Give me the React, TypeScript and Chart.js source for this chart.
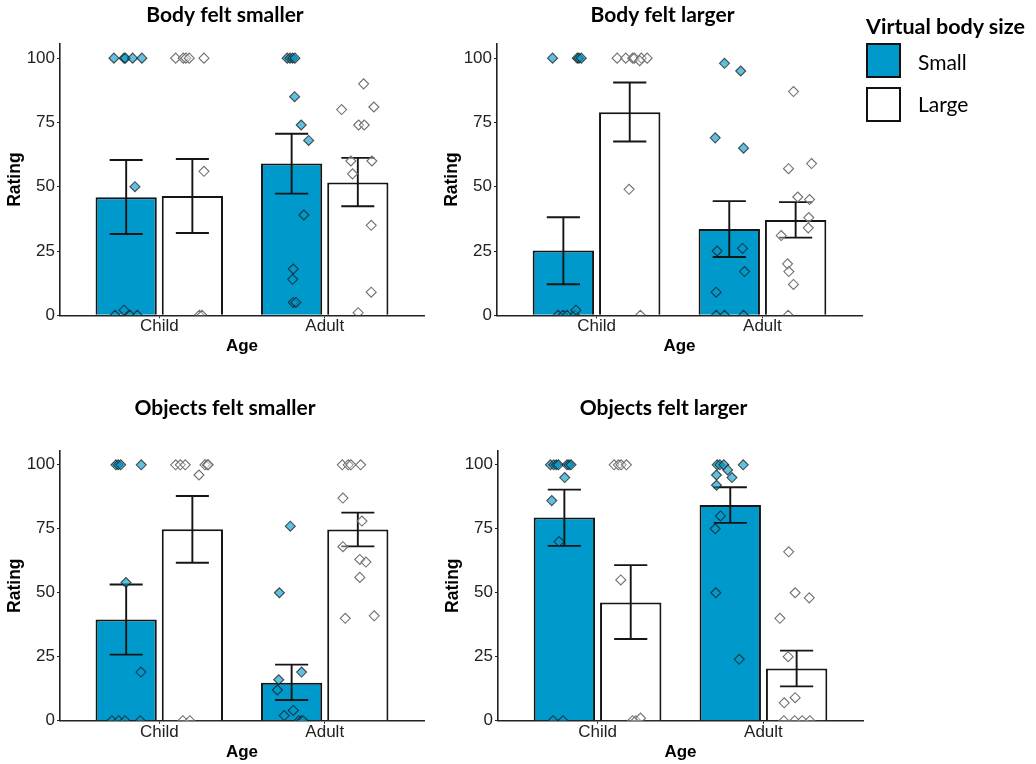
import React, { useEffect, useRef } from "react";
import { Chart, registerables } from "chart.js";

Chart.register(...registerables);

// ---------- data ----------
const ageLabels = ["Child", "Adult"];
const yTicks = [0, 25, 50, 75, 100];
const legendTitle = "Virtual body size";
const seriesNames = ["Small", "Large"];

// Panel 1: Body felt smaller
const p1Title = "Body felt smaller";
const p1SmallMean = [45.9, 59.0];
const p1SmallLow = [31.6, 47.3];
const p1SmallHigh = [60.4, 70.6];
const p1LargeMean = [46.4, 51.6];
const p1LargeLow = [32.0, 42.4];
const p1LargeHigh = [60.8, 61.2];
const p1SmallPtX = [-0.274, -0.213, -0.205, -0.161, -0.105, -0.147, -0.268, -0.213, -0.177, -0.133, 0.773, 0.79, 0.806, 0.82, 0.818, 0.858, 0.903, 0.874, 0.81, 0.806, 0.81, 0.826];
const p1SmallPtY = [100, 100, 100, 100, 100, 50, 0, 2, 0, 0, 100, 100, 100, 100, 85, 74, 68, 39, 18, 14, 5, 5];
const p1LargePtX = [0.099, 0.145, 0.161, 0.181, 0.27, 0.27, 0.242, 0.258, 1.235, 1.102, 1.297, 1.205, 1.239, 1.158, 1.285, 1.168, 1.281, 1.281, 1.202];
const p1LargePtY = [100, 100, 100, 100, 100, 56, 0, 0, 90, 80, 81, 74, 74, 60, 60, 55, 35, 9, 1];

// Panel 2: Body felt larger
const p2Title = "Body felt larger";
const p2SmallMean = [25.2, 33.6];
const p2SmallLow = [12.1, 22.7];
const p2SmallHigh = [38.1, 44.4];
const p2LargeMean = [79.0, 37.1];
const p2LargeLow = [67.6, 30.2];
const p2LargeHigh = [90.5, 44.0];
const p2SmallPtX = [-0.265, -0.116, -0.106, -0.092, -0.232, -0.202, -0.178, -0.132, -0.124, 0.771, 0.869, 0.715, 0.886, 0.88, 0.727, 0.892, 0.721, 0.721, 0.771, 0.886];
const p2SmallPtY = [100, 100, 100, 100, 0, 0, 0, 0, 2, 98, 95, 69, 65, 26, 25, 17, 9, 0, 0, 0];
const p2LargePtX = [0.124, 0.176, 0.218, 0.228, 0.27, 0.305, 0.26, 0.196, 0.264, 1.187, 1.296, 1.157, 1.213, 1.284, 1.279, 1.276, 1.113, 1.151, 1.159, 1.187, 1.155];
const p2LargePtY = [100, 100, 100, 100, 100, 100, 99, 49, 0, 87, 59, 57, 46, 45, 38, 34, 31, 20, 17, 12, 0];

// Panel 3: Objects felt smaller
const p3Title = "Objects felt smaller";
const p3SmallMean = [39.5, 14.8];
const p3SmallLow = [25.8, 8.1];
const p3SmallHigh = [53.2, 21.9];
const p3LargeMean = [74.8, 74.7];
const p3LargeLow = [61.7, 68.1];
const p3LargeHigh = [87.8, 81.3];
const p3SmallPtX = [-0.262, -0.248, -0.233, -0.109, -0.201, -0.111, -0.286, -0.245, -0.207, -0.115, 0.792, 0.726, 0.86, 0.722, 0.714, 0.81, 0.755, 0.844, 0.86, 0.87];
const p3SmallPtY = [100, 100, 100, 100, 54, 19, 0, 0, 0, 0, 76, 50, 19, 16, 12, 4, 2, 0, 0, 0];
const p3LargePtX = [0.099, 0.127, 0.157, 0.276, 0.29, 0.296, 0.24, 0.143, 0.185, 1.106, 1.142, 1.158, 1.217, 1.11, 1.225, 1.11, 1.212, 1.249, 1.212, 1.299, 1.124];
const p3LargePtY = [100, 100, 100, 100, 100, 100, 96, 0, 0, 100, 100, 100, 100, 87, 78, 68, 63, 62, 56, 41, 40];

// Panel 4: Objects felt larger
const p4Title = "Objects felt larger";
const p4SmallMean = [79.4, 84.3];
const p4SmallLow = [68.3, 77.3];
const p4SmallHigh = [90.3, 91.2];
const p4LargeMean = [46.2, 20.4];
const p4LargeLow = [31.9, 13.4];
const p4LargeHigh = [60.8, 27.4];
const p4SmallPtX = [-0.284, -0.264, -0.248, -0.236, -0.184, -0.172, -0.16, -0.198, -0.276, -0.232, -0.268, -0.208, 0.721, 0.737, 0.761, 0.878, 0.784, 0.717, 0.81, 0.717, 0.741, 0.709, 0.713, 0.854];
const p4SmallPtY = [100, 100, 100, 100, 100, 100, 100, 95, 86, 70, 0, 0, 100, 100, 100, 100, 98, 96, 95, 92, 80, 75, 50, 24];
const p4LargePtX = [0.1, 0.126, 0.142, 0.174, 0.14, 0.211, 0.231, 0.259, 1.152, 1.191, 1.276, 1.099, 1.149, 1.191, 1.125, 1.123, 1.188, 1.234, 1.28];
const p4LargePtY = [100, 100, 100, 100, 55, 0, 0, 1, 66, 50, 48, 40, 25, 9, 7, 0, 0, 0, 0];

// ---------- styles ----------
const SMALL_BAR = "#0099cc";
const LARGE_BAR = "#ffffff";
const AXIS_COLOR = "#222222";
const TICK_FONT = "'Liberation Sans', Arial, sans-serif";
const TITLE_FONT = "Lato, 'Open Sans', sans-serif";

const errorBarPlugin = {
  id: "errorBars",
  afterDatasetDraw(chart: any, args: any) {
    const ds = chart.data.datasets[args.index] as any;
    if (!ds.errLow) return;
    const y = chart.scales.y;
    const ctx = chart.ctx;
    ctx.save();
    ctx.strokeStyle = "#151515";
    ctx.lineWidth = 1.9;
    args.meta.data.forEach((bar: any, i: number) => {
      const x = bar.x;
      const half = bar.width * 0.27;
      const yl = y.getPixelForValue(ds.errLow[i]);
      const yh = y.getPixelForValue(ds.errHigh[i]);
      ctx.beginPath();
      ctx.moveTo(x, yl);
      ctx.lineTo(x, yh);
      ctx.moveTo(x - half, yl);
      ctx.lineTo(x + half, yl);
      ctx.moveTo(x - half, yh);
      ctx.lineTo(x + half, yh);
      ctx.stroke();
    });
    ctx.restore();
  },
};

const panelTitlePlugin = {
  id: "panelTitle",
  afterDraw(chart: any, _args: any, opts: any) {
    const { ctx, chartArea } = chart;
    ctx.save();
    ctx.font = `bold 21px ${TITLE_FONT}`;
    ctx.fillStyle = "#000";
    ctx.textAlign = "center";
    ctx.textBaseline = "middle";
    ctx.fillText(opts.text, (chartArea.left + chartArea.right) / 2 + opts.dx, opts.y);
    ctx.restore();
  },
};

type PanelProps = {
  title: string;
  smallMean: number[]; smallLow: number[]; smallHigh: number[];
  largeMean: number[]; largeLow: number[]; largeHigh: number[];
  smallPtX: number[]; smallPtY: number[];
  largePtX: number[]; largePtY: number[];
  left: number; top: number; width: number; height: number;
  padTop: number; padRight: number; plotBottom: number; titleY: number;
};

function Panel(p: PanelProps) {
  const ref = useRef<HTMLCanvasElement | null>(null);
  useEffect(() => {
    if (!ref.current) return;
    const xH = p.height - (p.plotBottom - p.top);
    const chart = new Chart(ref.current, {
      type: "bar",
      data: {
        datasets: [
          {
            type: "scatter",
            label: seriesNames[0] + " points",
            data: p.smallPtX.map((x, i) => ({ x, y: p.smallPtY[i] })),
            pointStyle: "rectRot",
            pointRadius: 5,
            backgroundColor: "rgba(0,153,204,0.62)",
            borderColor: "rgba(25,25,25,0.75)",
            borderWidth: 1.1,
            clip: 0,
            order: 0,
          } as any,
          {
            type: "scatter",
            label: seriesNames[1] + " points",
            data: p.largePtX.map((x, i) => ({ x, y: p.largePtY[i] })),
            pointStyle: "rectRot",
            pointRadius: 5,
            backgroundColor: "rgba(255,255,255,0.35)",
            borderColor: "#707070",
            borderWidth: 1.1,
            clip: 0,
            order: 0,
          } as any,
          {
            type: "bar",
            label: seriesNames[0],
            data: p.smallMean.map((v, i) => ({ x: i, y: v })),
            backgroundColor: SMALL_BAR,
            borderColor: "#151515",
            borderWidth: 2,
            categoryPercentage: 0.8,
            barPercentage: 0.925,
            errLow: p.smallLow,
            errHigh: p.smallHigh,
            order: 1,
          } as any,
          {
            type: "bar",
            label: seriesNames[1],
            data: p.largeMean.map((v, i) => ({ x: i, y: v })),
            backgroundColor: LARGE_BAR,
            borderColor: "#151515",
            borderWidth: 2,
            categoryPercentage: 0.8,
            barPercentage: 0.925,
            errLow: p.largeLow,
            errHigh: p.largeHigh,
            order: 1,
          } as any,
        ],
      },
      options: {
        animation: false,
        responsive: false,
        events: [],
        layout: { padding: { top: p.padTop, left: 0, right: p.padRight, bottom: 0 } },
        plugins: {
          legend: { display: false },
          tooltip: { enabled: false },
          panelTitle: { text: p.title, dx: -17, y: p.titleY },
        } as any,
        scales: {
          x: {
            type: "linear",
            min: -0.6,
            max: 1.6,
            offset: false,
            afterBuildTicks: (s: any) => {
              s.ticks = ageLabels.map((_, i) => ({ value: i }));
            },
            afterFit: (s: any) => {
              s.height = xH;
            },
            ticks: {
              callback: (v: any) => ageLabels[v] ?? "",
              font: { family: TICK_FONT, size: 17, lineHeight: 1 },
              color: AXIS_COLOR,
              padding: 0,
              maxRotation: 0,
              autoSkip: false,
            },
            grid: { display: true, drawOnChartArea: false, drawTicks: true, tickLength: 3, color: AXIS_COLOR, offset: false },
            border: { display: true, color: AXIS_COLOR, width: 1.6 },
            title: {
              display: true,
              text: "Age",
              font: { family: TICK_FONT, size: 17, weight: "bold", lineHeight: 1 },
              color: "#000",
              padding: 0,
            },
          } as any,
          y: {
            type: "linear",
            min: 0,
            max: 105.5,
            afterBuildTicks: (s: any) => {
              s.ticks = yTicks.map((v) => ({ value: v }));
            },
            afterFit: (s: any) => {
              s.width = 60;
            },
            ticks: {
              font: { family: TICK_FONT, size: 17, lineHeight: 1 },
              color: AXIS_COLOR,
              padding: 2,
            },
            grid: { display: true, drawOnChartArea: false, drawTicks: true, tickLength: 3, color: AXIS_COLOR },
            border: { display: true, color: AXIS_COLOR, width: 1.6 },
            title: {
              display: true,
              text: "Rating",
              font: { family: TICK_FONT, size: 17.5, weight: "bold", lineHeight: 1 },
              color: "#000",
              padding: 6.5,
            },
          } as any,
        },
      },
      plugins: [errorBarPlugin, panelTitlePlugin],
    });
    return () => chart.destroy();
  }, []);
  return (
    <canvas
      ref={ref}
      width={p.width}
      height={p.height}
      style={{ position: "absolute", left: p.left, top: p.top, width: p.width, height: p.height }}
    />
  );
}

export default function App() {
  const legendText: React.CSSProperties = {
    position: "absolute",
    fontFamily: TITLE_FONT,
    fontSize: 21,
    lineHeight: "24px",
    whiteSpace: "nowrap",
    color: "#000",
  };
  const box: React.CSSProperties = {
    position: "absolute",
    left: 866,
    width: 35,
    height: 35,
    boxSizing: "border-box",
    border: "2px solid #111",
  };
  return (
    <div style={{ position: "absolute", left: 0, top: 0, width: 1036, height: 764, overflow: "hidden", background: "#fff" }}>
      <Panel title={p1Title}
        smallMean={p1SmallMean} smallLow={p1SmallLow} smallHigh={p1SmallHigh}
        largeMean={p1LargeMean} largeLow={p1LargeLow} largeHigh={p1LargeHigh}
        smallPtX={p1SmallPtX} smallPtY={p1SmallPtY} largePtX={p1LargePtX} largePtY={p1LargePtY}
        left={0} top={0} width={449} height={355} padTop={44} padRight={25} plotBottom={315.3} titleY={15} />
      <Panel title={p2Title}
        smallMean={p2SmallMean} smallLow={p2SmallLow} smallHigh={p2SmallHigh}
        largeMean={p2LargeMean} largeLow={p2LargeLow} largeHigh={p2LargeHigh}
        smallPtX={p2SmallPtX} smallPtY={p2SmallPtY} largePtX={p2LargePtX} largePtY={p2LargePtY}
        left={437} top={0} width={450} height={355} padTop={44} padRight={25} plotBottom={315.3} titleY={15} />
      <Panel title={p3Title}
        smallMean={p3SmallMean} smallLow={p3SmallLow} smallHigh={p3SmallHigh}
        largeMean={p3LargeMean} largeLow={p3LargeLow} largeHigh={p3LargeHigh}
        smallPtX={p3SmallPtX} smallPtY={p3SmallPtY} largePtX={p3LargePtX} largePtY={p3LargePtY}
        left={0} top={390} width={449} height={371} padTop={60.7} padRight={25} plotBottom={720.7} titleY={18} />
      <Panel title={p4Title}
        smallMean={p4SmallMean} smallLow={p4SmallLow} smallHigh={p4SmallHigh}
        largeMean={p4LargeMean} largeLow={p4LargeLow} largeHigh={p4LargeHigh}
        smallPtX={p4SmallPtX} smallPtY={p4SmallPtY} largePtX={p4LargePtX} largePtY={p4LargePtY}
        left={438} top={390} width={450} height={371} padTop={60.7} padRight={25} plotBottom={720.7} titleY={18} />

      <div style={{ ...legendText, left: 866, top: 14, fontWeight: "bold", fontSize: 21.5 }}>{legendTitle}</div>
      <div style={{ ...box, top: 43, background: SMALL_BAR }} />
      <div style={{ ...box, top: 87, background: LARGE_BAR }} />
      <div style={{ ...legendText, left: 918, top: 50 }}>{seriesNames[0]}</div>
      <div style={{ ...legendText, left: 918, top: 92 }}>{seriesNames[1]}</div>
    </div>
  );
}
